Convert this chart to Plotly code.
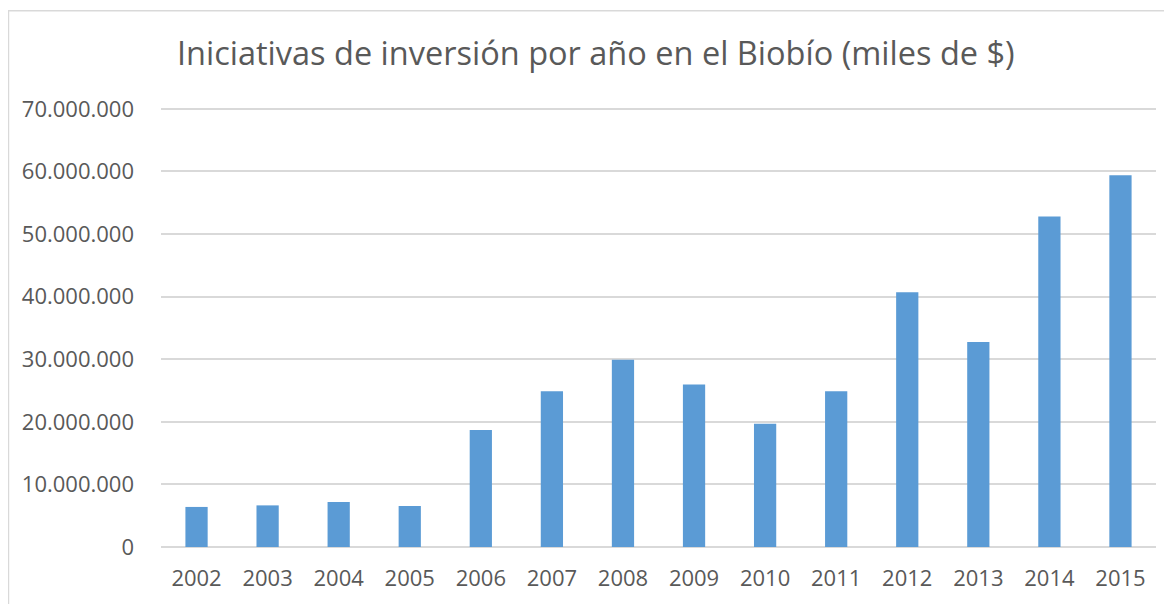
import plotly.graph_objects as go

anios = ['2002', '2003', '2004', '2005', '2006', '2007', '2008',
         '2009', '2010', '2011', '2012', '2013', '2014', '2015']
inversion = [6400000, 6650000, 7200000, 6550000, 18700000, 24900000, 29900000,
             25950000, 19700000, 24900000, 40700000, 32750000, 52800000, 59400000]
marcas_y = [0, 10000000, 20000000, 30000000, 40000000, 50000000, 60000000, 70000000]

titulo = 'Iniciativas de inversión por año en el Biobío (miles de $)'
gris_texto = '#595959'
gris_linea = '#d9d9d9'

fig = go.Figure(go.Bar(
    x=anios,
    y=inversion,
    marker=dict(color='#5b9bd5', line=dict(width=0)),
))

# la página tiene 8px de margen en body, se compensa
fig.update_layout(
    width=1164, height=596,
    paper_bgcolor='white', plot_bgcolor='white',
    margin={"l": 153, "r": 16, "t": 99, "b": 53},
    bargap=0.687,
    separators=',.',
    showlegend=False,
    font=dict(family='Open Sans', color=gris_texto, size=22),
    title=dict(text=titulo, x=0.505, xanchor='center', y=0.923, yanchor='middle',
               font=dict(family='Open Sans', size=32.5, color=gris_texto)),
)
fig.update_xaxes(showgrid=False, ticks='', showline=False, ticklabelstandoff=16)
fig.update_yaxes(
    range=[0, 70300000], tickvals=marcas_y,
    tickformat=',d',
    showgrid=True, gridcolor=gris_linea, gridwidth=1.5,
    zeroline=True, zerolinecolor=gris_linea, zerolinewidth=1.5,
    showline=False, ticks='', ticklabelstandoff=26,
)

# borde del área del gráfico
fig.add_shape(type='rect', xref='paper', yref='paper',
              x0=-0.1533, x1=1.03, y0=-0.2, y1=1.2185,
              line=dict(color=gris_linea, width=1.5), fillcolor='rgba(0,0,0,0)',
              layer='below')

fig.write_html("out.html")
